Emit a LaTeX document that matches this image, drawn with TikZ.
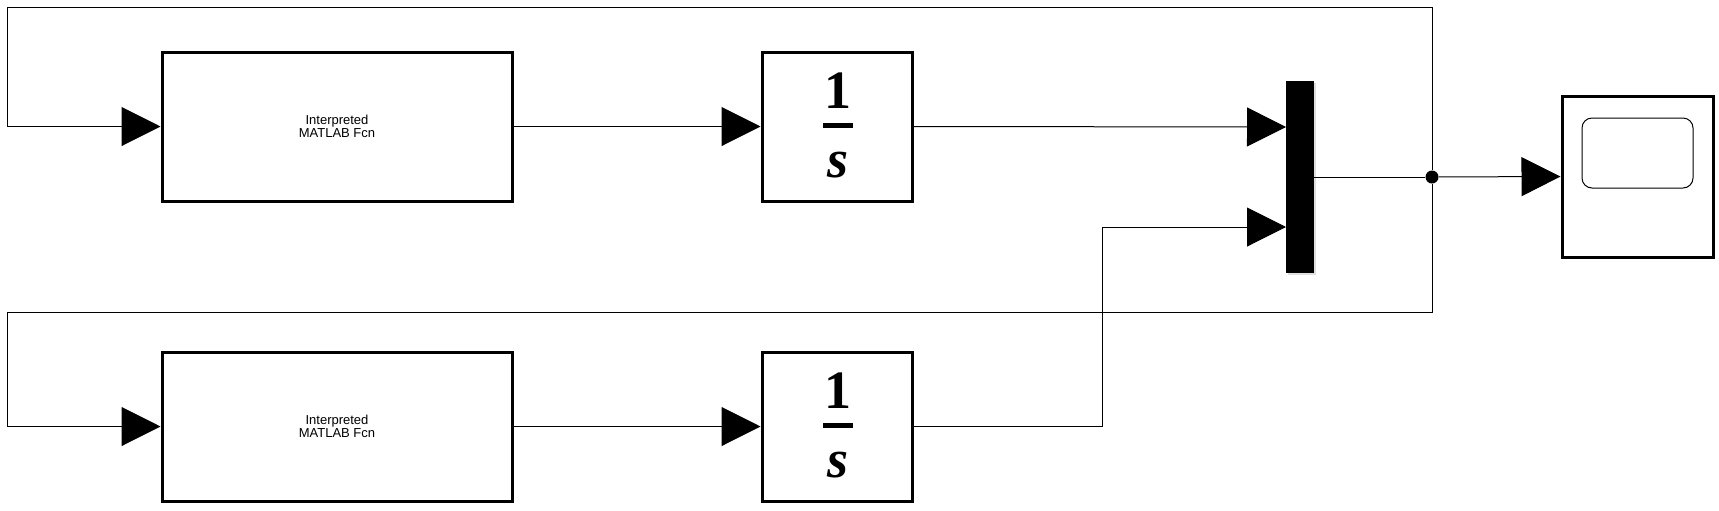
\documentclass[tikz,border=0pt]{standalone}
\usepackage{fontspec}
\setmainfont{Liberation Sans}
\newfontfamily\timesfont{Liberation Serif}
\usetikzlibrary{arrows.meta,shadows}
\begin{document}
\begin{tikzpicture}[x=0.5pt, y=-0.5pt,
    blk/.style={draw, line width=1.5pt, fill=white, inner sep=0pt, drop shadow={shadow xshift=1.2pt, shadow yshift=-1.2pt, opacity=0.25}},
    fcn/.style={blk, minimum width=175pt, minimum height=74.5pt, align=center, font=\fontsize{6.5}{6.4}\selectfont},
    integ/.style={blk, minimum width=75pt, minimum height=74.5pt},
    num/.style={anchor=base, inner sep=0pt, font=\timesfont\fontsize{27}{27}\selectfont\bfseries},
    sig/.style={line width=0.5pt, -{Triangle[length=19.5pt, width=19.5pt]}},
    wire/.style={line width=0.5pt}]
    \useasboundingbox (0,0) rectangle (1719,510);

    \node (f1) at (337,126.5) [fcn] {Interpreted\\ MATLAB Fcn};
    \node (f2) at (337,426.5) [fcn] {Interpreted\\ MATLAB Fcn};
    \node (i1) at (837,126.5) [integ] {};
    \node (i2) at (837,426.5) [integ] {};
    \node (one1) at (838,108) [num] {1};
    \node (s1) at (838,177) [num] {\itshape s};
    \node (one2) at (838,408) [num] {1};
    \node (s2) at (838,477) [num] {\itshape s};
    \draw[line width=2.5pt] (823,125) -- (853,125);
    \draw[line width=2.5pt] (823,425) -- (853,425);

    \node (mux) at (1300,177) [fill, inner sep=0pt, minimum width=14pt, minimum height=96pt, drop shadow={shadow xshift=1.2pt, shadow yshift=-1.2pt, opacity=0.25}] {};
    \node (jn) at (1432,177) [circle, fill, inner sep=0pt, minimum size=6.5pt] {};
    \node (sc) at (1637.5,176.5) [blk, minimum width=75.5pt, minimum height=80.5pt] {};
    \node (scr) at (1637.5,153) [draw, line width=0.5pt, rounded corners=5pt, minimum width=55.5pt, minimum height=35pt] {};

    \coordinate (m1) at (1286,127);
    \coordinate (m2) at (1286,227);
    \coordinate (bend) at (1102,227);
    \coordinate (tl) at (7,7);
    \coordinate (ml) at (7,312);

    \draw[sig] (f1.east) -- (i1.west);
    \draw[sig] (f2.east) -- (i2.west);
    \draw[sig] (i1.east) -- (m1);
    \draw[sig] (i2.east) -| (bend) -- (m2);
    \draw[wire] (mux.east) -- (jn);
    \draw[sig] (jn) -- (sc.west);
    \draw[sig] (jn) |- (tl) |- (f1.west);
    \draw[sig] (jn) |- (ml) |- (f2.west);
\end{tikzpicture}
\end{document}
